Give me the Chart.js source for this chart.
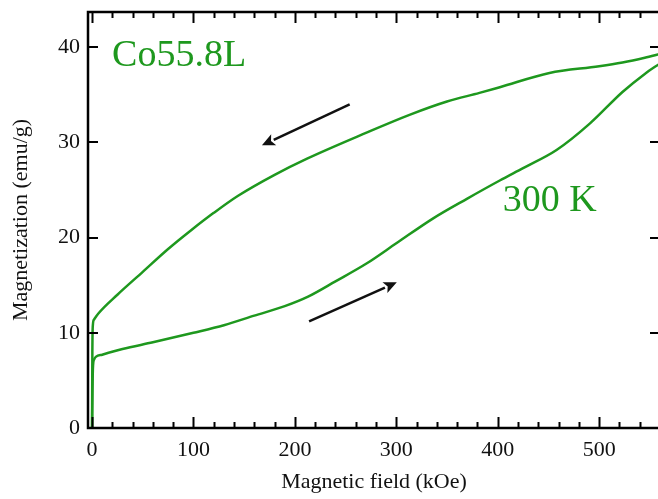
<!DOCTYPE html>
<html>
<head>
<meta charset="utf-8">
<script src="https://cdn.jsdelivr.net/npm/chart.js@4/dist/chart.umd.min.js"></script>
<style>
html,body{margin:0;padding:0;background:#fff;overflow:hidden;}
#wrap{width:658px;height:499px;overflow:hidden;position:relative;}
canvas{display:block;}
</style>
</head>
<body>
<div id="wrap"><canvas id="c" width="662" height="499"></canvas></div>
<script>
// ---- data ----
const ascField = [0, 0.4, 1.0, 2.0, 4, 10, 30, 60, 100, 130, 160, 190, 213, 240, 271, 300, 336, 370, 402, 425, 458, 491, 523, 545, 560];
const ascMag   = [0, 4.0, 6.6, 7.2, 7.5, 7.7, 8.3, 9.0, 10.0, 10.8, 11.8, 12.8, 13.8, 15.4, 17.3, 19.4, 22.0, 24.1, 26.0, 27.3, 29.2, 32.0, 35.3, 37.2, 38.3];
const descField = [0, 0.3, 0.8, 2, 6, 25, 50, 75, 98, 120, 144, 180, 212, 270, 313, 350, 382, 402, 451, 500, 523, 545, 560];
const descMag   = [0, 8.0, 10.8, 11.4, 12.0, 14.0, 16.4, 18.8, 20.8, 22.6, 24.4, 26.6, 28.3, 31.0, 32.9, 34.3, 35.2, 35.8, 37.3, 38.0, 38.4, 38.9, 39.3];
const xTicks = [0, 100, 200, 300, 400, 500];
const yTicks = [0, 10, 20, 30, 40];
const sampleLabel = "Co55.8L";
const tempLabel = "300 K";
const labelPos = [[19.7, 38.0], [405, 22.8]];   // [field, mag] of text baselines
const arrowDown = [[254, 34.0], [167.5, 29.7]];  // from -> to
const arrowUp   = [[214, 11.2], [300.5, 15.3]];

const GREEN = 'rgb(30,152,30)';
const SERIF = '"Liberation Serif", "Times New Roman", serif';

const toPts = (xs, ys) => xs.map((x, i) => ({x: x, y: ys[i]}));

const decor = {
  id: 'decor',
  afterDatasetsDraw(chart) {
    const {ctx, chartArea: a, scales: {x, y}} = chart;
    ctx.save();
    ctx.strokeStyle = '#000';
    ctx.lineWidth = 2.5;
    ctx.lineCap = 'butt';
    ctx.strokeRect(a.left, a.top, a.right - a.left, a.bottom - a.top);
    ctx.lineWidth = 2;
    for (let v = 0; v <= 560; v += 20) {
      const px = Math.round(x.getPixelForValue(v)) + 0.5;
      const len = (v % 100 === 0) ? 11 : 6;
      ctx.beginPath();
      ctx.moveTo(px, a.bottom); ctx.lineTo(px, a.bottom - len);
      ctx.moveTo(px, a.top); ctx.lineTo(px, a.top + len);
      ctx.stroke();
    }
    yTicks.forEach(v => {
      const py = Math.round(y.getPixelForValue(v));
      ctx.beginPath();
      ctx.moveTo(a.left, py); ctx.lineTo(a.left + 10, py);
      ctx.moveTo(a.right, py); ctx.lineTo(a.right - 10, py);
      ctx.stroke();
    });
    const arrow = (p0, p1) => {
      const x0 = x.getPixelForValue(p0[0]), y0 = y.getPixelForValue(p0[1]);
      const x1 = x.getPixelForValue(p1[0]), y1 = y.getPixelForValue(p1[1]);
      const ang = Math.atan2(y1 - y0, x1 - x0);
      const hl = 13, hw = 6;
      const bx = x1 - hl * Math.cos(ang), by = y1 - hl * Math.sin(ang);
      ctx.strokeStyle = '#111';
      ctx.fillStyle = '#111';
      ctx.lineWidth = 2.5;
      ctx.beginPath(); ctx.moveTo(x0, y0); ctx.lineTo(bx, by); ctx.stroke();
      ctx.beginPath();
      ctx.moveTo(x1, y1);
      ctx.lineTo(bx + hw * Math.sin(ang), by - hw * Math.cos(ang));
      ctx.lineTo(bx + 3 * Math.cos(ang), by + 3 * Math.sin(ang));
      ctx.lineTo(bx - hw * Math.sin(ang), by + hw * Math.cos(ang));
      ctx.closePath(); ctx.fill();
    };
    arrow(arrowDown[0], arrowDown[1]);
    arrow(arrowUp[0], arrowUp[1]);
    ctx.fillStyle = GREEN;
    ctx.font = '38px ' + SERIF;
    ctx.textBaseline = 'alphabetic';
    ctx.fillText(sampleLabel, x.getPixelForValue(labelPos[0][0]), y.getPixelForValue(labelPos[0][1]));
    ctx.fillText(tempLabel, x.getPixelForValue(labelPos[1][0]), y.getPixelForValue(labelPos[1][1]));
    ctx.restore();
  }
};

new Chart(document.getElementById('c'), {
  type: 'line',
  data: {
    datasets: [
      {data: toPts(ascField, ascMag), borderColor: GREEN, borderWidth: 2.5, pointRadius: 0, cubicInterpolationMode: 'monotone', fill: false},
      {data: toPts(descField, descMag), borderColor: GREEN, borderWidth: 2.5, pointRadius: 0, cubicInterpolationMode: 'monotone', fill: false}
    ]
  },
  options: {
    responsive: false,
    animation: false,
    events: [],
    layout: {padding: {top: 12, right: 2, left: 0, bottom: 0}},
    plugins: {legend: {display: false}, tooltip: {enabled: false}},
    scales: {
      x: {
        type: 'linear', min: -4, max: 560,
        afterBuildTicks: s => { s.ticks = xTicks.map(v => ({value: v})); },
        afterFit: s => { s.height = 71; s.paddingLeft = 0; s.paddingRight = 0; },
        grid: {display: false, drawTicks: false},
        border: {display: false},
        ticks: {color: '#111', font: {family: SERIF, size: 22}, padding: 9, maxRotation: 0},
        title: {display: true, text: 'Magnetic field (kOe)', color: '#111', font: {family: SERIF, size: 22}, padding: {top: 2}}
      },
      y: {
        type: 'linear', min: 0, max: 43.7,
        afterBuildTicks: s => { s.ticks = yTicks.map(v => ({value: v})); },
        afterFit: s => { s.width = 88; s.paddingTop = 0; s.paddingBottom = 0; },
        grid: {display: false, drawTicks: false},
        border: {display: false},
        ticks: {color: '#111', font: {family: SERIF, size: 22}, padding: 8},
        title: {display: true, text: 'Magnetization (emu/g)', color: '#111', font: {family: SERIF, size: 22}, padding: {bottom: 0, top: 8}}
      }
    }
  },
  plugins: [decor]
});
</script>
</body>
</html>
